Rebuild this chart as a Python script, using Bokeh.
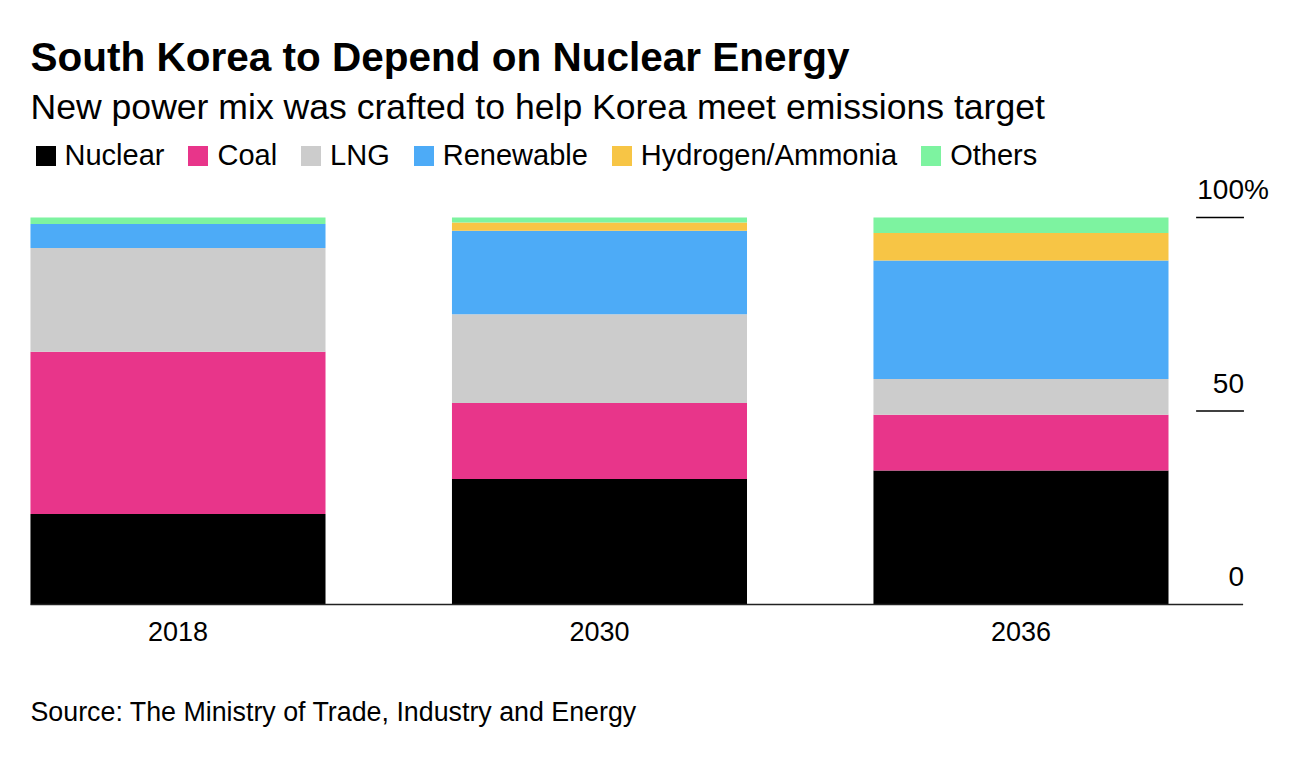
from bokeh.plotting import figure
from bokeh.models import (ColumnDataSource, Range1d, Label, Legend, LegendItem)
from bokeh.embed import file_html
from bokeh.resources import INLINE

# ---- data ----
years = ["2018", "2030", "2036"]
series = ["Nuclear", "Coal", "LNG", "Renewable", "Hydrogen/Ammonia", "Others"]
nuclear = [23.4, 32.4, 34.6]
coal = [41.9, 19.7, 14.4]
lng = [26.8, 22.9, 9.3]
renewable = [6.2, 21.6, 30.6]
hydrogen = [0.0, 2.1, 7.1]
others = [1.7, 1.3, 4.0]
tick_values = [0, 50, 100]
tick_labels = ["0", "50", "100"]

colors = ["#000000", "#e8358a", "#cccccc", "#4dabf7", "#f7c545", "#7df3a0"]
FONT = "Liberation Sans"

W, H = 1302, 764
DY = 12  # baseline correction for labels

source = ColumnDataSource(dict(
    x=list(range(len(years))),
    Nuclear=nuclear, Coal=coal, LNG=lng, Renewable=renewable,
    **{"Hydrogen/Ammonia": hydrogen}, Others=others,
))

p = figure(width=W, height=H, output_backend="svg", toolbar_location=None,
           x_range=Range1d(-0.4211, 2.6679), y_range=Range1d(-41.34, 156.07),
           x_axis_location=None, y_axis_location=None, min_border=0,
           background_fill_color="white", border_fill_color="white")
p.outline_line_color = None
p.xgrid.visible = False
p.ygrid.visible = False

renderers = p.vbar_stack(series, x="x", width=0.70, color=colors,
                         source=source, line_color=None)

# baseline
p.segment(x0=[-0.35], y0=[0], x1=[2.527], y1=[0], line_color="#222222", line_width=1.5)

# right-side ticks: short lines with labels above
tick_line_vals = [v for v in tick_values if v != 0]
p.segment(x0=[2.4155] * len(tick_line_vals), y0=tick_line_vals,
          x1=[2.529] * len(tick_line_vals), y1=tick_line_vals,
          line_color="#000000", line_width=1.5)
for v, t in zip(tick_values, tick_labels):
    p.add_layout(Label(x=2.529, y=v, text=t, text_align="right",
                       text_baseline="alphabetic", y_offset=16 + DY,
                       text_font=FONT, text_font_size="28px", text_color="#000000"))
    if v == 100:
        p.add_layout(Label(x=2.529, y=v, text="%", text_align="left",
                           text_baseline="alphabetic", y_offset=16 + DY,
                           text_font=FONT, text_font_size="28px", text_color="#000000"))

# category labels
for i, yr in enumerate(years):
    p.add_layout(Label(x=i, y=H - 643 + DY, y_units="screen", text=yr, text_align="center",
                       text_baseline="alphabetic", text_font=FONT,
                       text_font_size="27px", text_color="#000000"))

# title, subtitle, source
p.add_layout(Label(x=30, y=H - 68 + DY, x_units="screen", y_units="screen",
                   text="South Korea to Depend on Nuclear Energy",
                   text_font=FONT, text_font_style="bold", text_font_size="40.5px",
                   text_baseline="alphabetic", text_color="#000000"))
p.add_layout(Label(x=30, y=H - 118 + DY, x_units="screen", y_units="screen",
                   text="New power mix was crafted to help Korea meet emissions target",
                   text_font=FONT, text_font_size="35.6px",
                   text_baseline="alphabetic", text_color="#000000"))
p.add_layout(Label(x=30, y=H - 723 + DY, x_units="screen", y_units="screen",
                   text="Source: The Ministry of Trade, Industry and Energy",
                   text_font=FONT, text_font_size="26.8px",
                   text_baseline="alphabetic", text_color="#000000"))

legend = Legend(items=[LegendItem(label=n, renderers=[r]) for n, r in zip(series, renderers)],
                orientation="horizontal", location=(32.5, H - 172),
                glyph_width=25, glyph_height=25, label_height=25, label_standoff=7,
                spacing=21, padding=0, margin=0,
                label_text_font=FONT, label_text_font_size="29px",
                label_text_color="#000000",
                border_line_color=None, background_fill_alpha=0)
p.add_layout(legend)

open("out.html", "w").write(file_html(p, INLINE))
